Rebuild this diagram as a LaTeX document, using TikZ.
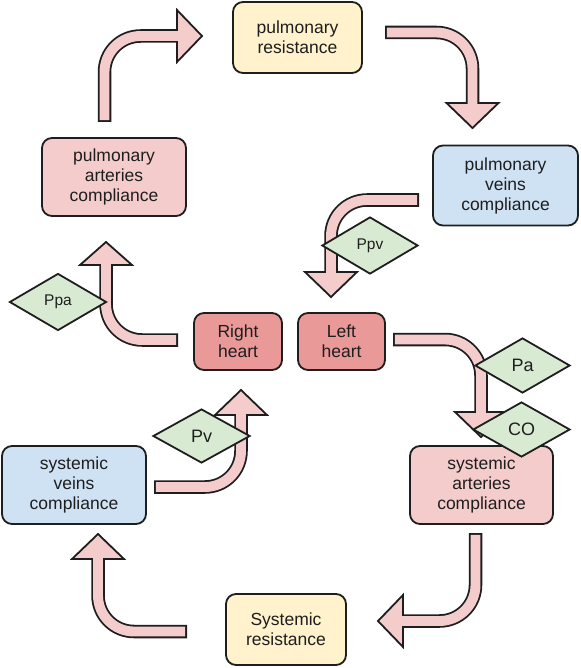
\documentclass[tikz,border=0pt]{standalone}
\usepackage{fontspec}
\setmainfont{Liberation Sans}
\usetikzlibrary{shapes.geometric,calc}
\definecolor{lineC}{HTML}{1E1E1E}
\definecolor{yelC}{HTML}{FFF2CC}
\definecolor{pinkC}{HTML}{F4CCCC}
\definecolor{blueC}{HTML}{CFE2F3}
\definecolor{heartC}{HTML}{EA9999}
\definecolor{greenC}{HTML}{D9EAD3}
\definecolor{arrowC}{HTML}{F4CCCC}
\newcommand\blockarrow[4]{%
  \draw[arrowout] (#1) -- (#2) -- (#3);
  \filldraw[arrowhead] ($(#3)!26pt!90:(#4)$) -- (#4) -- ($(#3)!26pt!-90:(#4)$) -- cycle;
  \draw[arrowin] (#1) -- (#2) -- (#3);
}
\begin{document}
\begin{tikzpicture}[x=1pt,y=-1pt,
  arrowout/.style={draw=lineC,line width=13.5pt,rounded corners=36pt},
  arrowin/.style={draw=arrowC,line width=9.9pt,rounded corners=36pt,shorten <=1.8pt,shorten >=-1.9pt},
  arrowhead/.style={fill=arrowC,draw=lineC,line width=1.8pt,line join=miter},
  box/.style={draw=lineC,line width=1.8pt,rounded corners=10pt,align=center,inner sep=0pt,
    font=\fontsize{17.5}{20}\selectfont,text=lineC},
  dia/.style={diamond,draw=lineC,fill=greenC,line width=1.8pt,inner sep=0pt,
    font=\fontsize{18}{20}\selectfont,text=lineC},
  smalldia/.style={dia,font=\fontsize{15.5}{18}\selectfont}]
\useasboundingbox (0,0) rectangle (580,668);
\fill[white] (0,0) rectangle (580,668);
% arrow coordinates
\coordinate (a1s) at (104.5,122); \coordinate (a1c) at (104.5,36); \coordinate (a1b) at (177,36); \coordinate (a1t) at (202,36);
\coordinate (a2s) at (385,32.5); \coordinate (a2c) at (472.5,32.5); \coordinate (a2b) at (472.5,103); \coordinate (a2t) at (472.5,128);
\coordinate (a3s) at (419,200); \coordinate (a3c) at (331,200); \coordinate (a3b) at (331,272); \coordinate (a3t) at (331,297);
\coordinate (a4s) at (178,340); \coordinate (a4c) at (106,340); \coordinate (a4b) at (106,265); \coordinate (a4t) at (106,242);
\coordinate (a5s) at (393,339.5); \coordinate (a5c) at (481,339.5); \coordinate (a5b) at (481,412); \coordinate (a5t) at (481,437);
\coordinate (a6s) at (475.5,533); \coordinate (a6c) at (475.5,621); \coordinate (a6b) at (403,621); \coordinate (a6t) at (378,621);
\coordinate (a7s) at (187,631.5); \coordinate (a7c) at (98,631.5); \coordinate (a7b) at (98,559); \coordinate (a7t) at (98,534);
\coordinate (a8s) at (154,487); \coordinate (a8c) at (241,487); \coordinate (a8b) at (241,415); \coordinate (a8t) at (241,390);
\blockarrow{a1s}{a1c}{a1b}{a1t}
\blockarrow{a2s}{a2c}{a2b}{a2t}
\blockarrow{a3s}{a3c}{a3b}{a3t}
\blockarrow{a4s}{a4c}{a4b}{a4t}
\blockarrow{a5s}{a5c}{a5b}{a5t}
\blockarrow{a6s}{a6c}{a6b}{a6t}
\blockarrow{a7s}{a7c}{a7b}{a7t}
\blockarrow{a8s}{a8c}{a8b}{a8t}
% boxes
\node[box,fill=yelC,minimum width=129pt,minimum height=71pt] (pres) at (297.5,37.5) {pulmonary\\resistance};
\node[box,fill=pinkC,minimum width=144pt,minimum height=78pt] (pac) at (114,177) {pulmonary\\arteries\\compliance};
\node[box,fill=blueC,minimum width=145pt,minimum height=80pt] (pvc) at (505.5,185.5) {pulmonary\\veins\\compliance};
\node[box,fill=heartC,minimum width=88pt,minimum height=57pt] (rh) at (238,341.5) {Right\\heart};
\node[box,fill=heartC,minimum width=87pt,minimum height=57pt] (lh) at (341.5,341.5) {Left\\heart};
\node[box,fill=blueC,minimum width=144pt,minimum height=78pt] (svc) at (74,485) {systemic\\veins\\compliance};
\node[box,fill=pinkC,minimum width=143pt,minimum height=78pt] (sac) at (481.5,485) {systemic\\arteries\\compliance};
\node[box,fill=yelC,minimum width=120pt,minimum height=71pt] (sres) at (286,629.5) {Systemic\\resistance};
% diamonds
\node[smalldia,minimum width=97pt,minimum height=57pt] (ppa) at (58,302) {Ppa};
\node[smalldia,minimum width=96pt,minimum height=57pt] (ppv) at (370,245.5) {Ppv};
\node[dia,minimum width=95pt,minimum height=55pt] (pa) at (522.5,365.5) {Pa};
\node[dia,minimum width=97pt,minimum height=55pt] (co) at (521.5,429.5) {CO};
\node[dia,minimum width=97pt,minimum height=54pt] (pv) at (201.5,436) {Pv};
\end{tikzpicture}
\end{document}
